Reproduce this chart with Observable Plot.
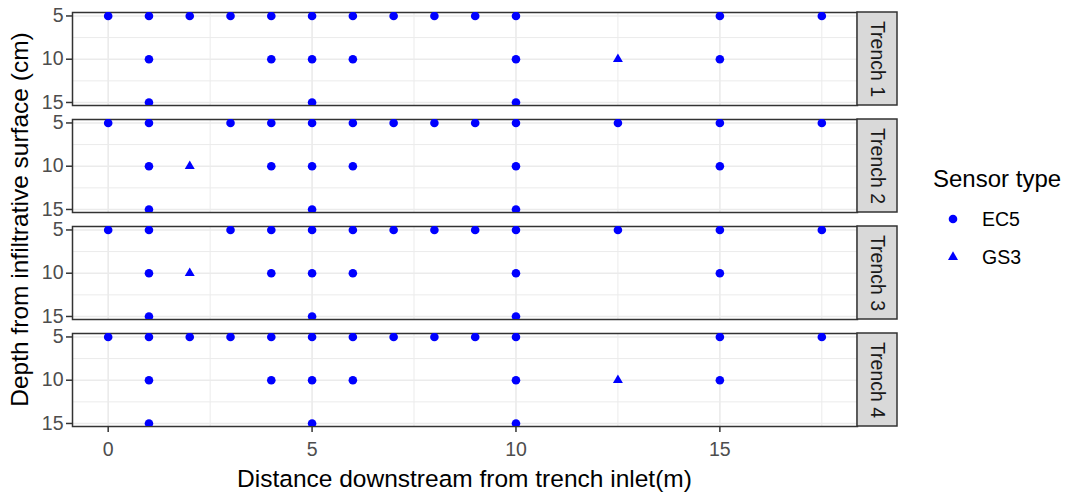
<!DOCTYPE html>
<html><head><meta charset="utf-8">
<script src="https://cdn.jsdelivr.net/npm/d3@7"></script>
<script src="https://cdn.jsdelivr.net/npm/@observablehq/plot@0.6"></script>
<style>
html,body{margin:0;padding:0;background:#fff;}
#chart{position:relative;width:1066px;height:493px;}
</style></head><body><div id="chart"></div>
<script>
const trenches = ["Trench 1", "Trench 2", "Trench 3", "Trench 4"];
const sensorTypes = ["EC5", "GS3"];
const xTicks = [0, 5, 10, 15];
const yTicks = [5, 10, 15];
const xGridMajor = [0, 5, 10, 15];
const xGridMinor = [2.5, 7.5, 12.5, 17.5];
const yGridMajor = [5, 10, 15];
const yGridMinor = [7.5, 12.5];

// Sensor distances (m) by trench and depth (cm)
const t1EC5d5  = [0, 1, 2, 3, 4, 5, 6, 7, 8, 9, 10, 15, 17.5];
const t1EC5d10 = [1, 4, 5, 6, 10, 15];
const t1EC5d15 = [1, 5, 10];
const t1GS3d10 = [12.5];

const t2EC5d5  = [0, 1, 3, 4, 5, 6, 7, 8, 9, 10, 12.5, 15, 17.5];
const t2EC5d10 = [1, 4, 5, 6, 10, 15];
const t2EC5d15 = [1, 5, 10];
const t2GS3d10 = [2];

const t3EC5d5  = [0, 1, 3, 4, 5, 6, 7, 8, 9, 10, 12.5, 15, 17.5];
const t3EC5d10 = [1, 4, 5, 6, 10, 15];
const t3EC5d15 = [1, 5, 10];
const t3GS3d10 = [2];

const t4EC5d5  = [0, 1, 2, 3, 4, 5, 6, 7, 8, 9, 10, 15, 17.5];
const t4EC5d10 = [1, 4, 5, 6, 10, 15];
const t4EC5d15 = [1, 5, 10];
const t4GS3d10 = [12.5];

const groups = [
  ["Trench 1", "EC5", 5, t1EC5d5], ["Trench 1", "EC5", 10, t1EC5d10], ["Trench 1", "EC5", 15, t1EC5d15], ["Trench 1", "GS3", 10, t1GS3d10],
  ["Trench 2", "EC5", 5, t2EC5d5], ["Trench 2", "EC5", 10, t2EC5d10], ["Trench 2", "EC5", 15, t2EC5d15], ["Trench 2", "GS3", 10, t2GS3d10],
  ["Trench 3", "EC5", 5, t3EC5d5], ["Trench 3", "EC5", 10, t3EC5d10], ["Trench 3", "EC5", 15, t3EC5d15], ["Trench 3", "GS3", 10, t3GS3d10],
  ["Trench 4", "EC5", 5, t4EC5d5], ["Trench 4", "EC5", 10, t4EC5d10], ["Trench 4", "EC5", 15, t4EC5d15], ["Trench 4", "GS3", 10, t4GS3d10]
];
const sensors = groups.flatMap(([trench, type, depth, xs]) => xs.map(x => ({trench, type, depth, x})));

const FONT = '"Liberation Sans", Arial, Helvetica, sans-serif';
const STRIP_W = 40;

const chart = Plot.plot({
  width: 1066, height: 493,
  marginTop: 11, marginBottom: 65, marginLeft: 72, marginRight: 209,
  style: {fontFamily: FONT, background: "#fff", overflow: "visible"},
  x: {domain: [-0.875, 18.375], axis: null},
  y: {domain: [4.6, 15.35], reverse: true, axis: null},
  fy: {domain: trenches, paddingInner: 0.127, paddingOuter: 0, axis: null},
  symbol: {domain: sensorTypes, range: ["circle", "triangle"]},
  marks: [
    Plot.ruleX(xGridMinor, {stroke: "#ebebeb", strokeWidth: 1}),
    Plot.ruleY(yGridMinor, {stroke: "#ebebeb", strokeWidth: 1}),
    Plot.ruleX(xGridMajor, {stroke: "#ebebeb", strokeWidth: 1.6}),
    Plot.ruleY(yGridMajor, {stroke: "#ebebeb", strokeWidth: 1.6}),
    Plot.frame({stroke: "#333333", strokeWidth: 1.5}),
    Plot.frame({
      render(index, scales, values, dimensions) {
        const {width, height, marginTop, marginRight, marginBottom} = dimensions;
        const r = d3.create("svg:rect")
          .attr("x", width - marginRight)
          .attr("y", marginTop)
          .attr("width", STRIP_W)
          .attr("height", height - marginTop - marginBottom)
          .attr("fill", "#d9d9d9")
          .attr("stroke", "#333333")
          .attr("stroke-width", 1.5);
        return r.node();
      }
    }),
    Plot.text(trenches, {fy: d => d, text: d => d, frameAnchor: "right", dx: STRIP_W / 2, rotate: 90,
      fontSize: 19.5, fill: "#1a1a1a", textAnchor: "middle", lineAnchor: "middle"}),
    Plot.axisY({ticks: yTicks, tickSize: 6, tickPadding: 3, fontSize: 19.5, fill: "#4d4d4d", stroke: "#333333", strokeWidth: 1.5, label: null}),
    Plot.axisX({ticks: xTicks, tickSize: 6, tickPadding: 10, fontSize: 19.5, fill: "#4d4d4d", stroke: "#333333", strokeWidth: 1.5, label: null}),
    Plot.dot(sensors.filter(d => d.type === "EC5"), {x: "x", y: "depth", fy: "trench", symbol: "type", r: 4.3, fill: "#0000ff", stroke: "none", clip: true}),
    Plot.dot(sensors.filter(d => d.type === "GS3"), {x: "x", y: "depth", fy: "trench", symbol: "type", r: 3.7, fill: "#0000ff", stroke: "none", clip: true})
  ]
});

document.getElementById("chart").appendChild(chart);

const svg = d3.select(chart);
// Axis titles
svg.append("text")
  .attr("x", 464.5).attr("y", 487)
  .attr("text-anchor", "middle")
  .attr("font-family", FONT).attr("font-size", 24.5).attr("fill", "#000")
  .text("Distance downstream from trench inlet(m)");
svg.append("text")
  .attr("transform", "translate(28,219.5) rotate(-90)")
  .attr("text-anchor", "middle")
  .attr("font-family", FONT).attr("font-size", 24.5).attr("fill", "#000")
  .text("Depth from infiltrative surface (cm)");

// Legend
const sym = chart.scale("symbol");
const lg = svg.append("g").attr("font-family", FONT).attr("text-anchor", "start");
lg.append("text").attr("x", 933).attr("y", 187).attr("font-size", 24).attr("fill", "#000").text("Sensor type");
const legendSizes = {EC5: 4.3, GS3: 3.7};
const symbolMap = {circle: d3.symbolCircle, triangle: d3.symbolTriangle};
sym.domain.forEach((k, i) => {
  const cy = 219 + i * 38;
  const s = sym.range[i];
  const symType = typeof s === "string" ? symbolMap[s] : s;
  const rr = legendSizes[k];
  lg.append("path")
    .attr("transform", `translate(953,${cy})`)
    .attr("d", d3.symbol(symType, rr * rr * Math.PI)())
    .attr("fill", "#0000ff");
  lg.append("text").attr("x", 982).attr("y", cy + 7).attr("font-size", 19.5).attr("fill", "#000").text(k);
});
</script>
</body></html>
